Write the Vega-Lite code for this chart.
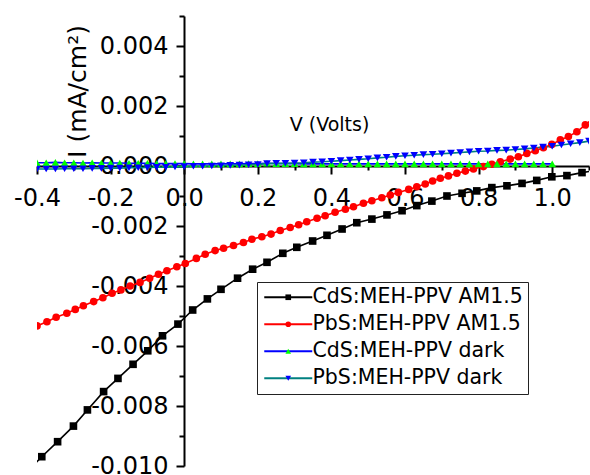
{
  "$schema": "https://vega.github.io/schema/vega-lite/v6.json",
  "width": 552,
  "height": 450,
  "autosize": "none",
  "padding": {"left": 37, "top": 16, "right": 1, "bottom": 9},
  "background": "white",
  "config": {"view": {"stroke": null}, "font": "DejaVu Sans"},
  "data": {
    "values": [
      {"c": "CdS:MEH-PPV AM1.5", "V": -0.428, "I": -0.0102},
      {"c": "CdS:MEH-PPV AM1.5", "V": -0.387, "I": -0.00969},
      {"c": "CdS:MEH-PPV AM1.5", "V": -0.344, "I": -0.00919},
      {"c": "CdS:MEH-PPV AM1.5", "V": -0.301, "I": -0.00867},
      {"c": "CdS:MEH-PPV AM1.5", "V": -0.263, "I": -0.00813},
      {"c": "CdS:MEH-PPV AM1.5", "V": -0.219, "I": -0.00752},
      {"c": "CdS:MEH-PPV AM1.5", "V": -0.18, "I": -0.00708},
      {"c": "CdS:MEH-PPV AM1.5", "V": -0.139, "I": -0.00661},
      {"c": "CdS:MEH-PPV AM1.5", "V": -0.099, "I": -0.00616},
      {"c": "CdS:MEH-PPV AM1.5", "V": -0.059, "I": -0.00566},
      {"c": "CdS:MEH-PPV AM1.5", "V": -0.017, "I": -0.00527},
      {"c": "CdS:MEH-PPV AM1.5", "V": 0.023, "I": -0.0048},
      {"c": "CdS:MEH-PPV AM1.5", "V": 0.063, "I": -0.00443},
      {"c": "CdS:MEH-PPV AM1.5", "V": 0.1, "I": -0.00411},
      {"c": "CdS:MEH-PPV AM1.5", "V": 0.145, "I": -0.00374},
      {"c": "CdS:MEH-PPV AM1.5", "V": 0.186, "I": -0.00344},
      {"c": "CdS:MEH-PPV AM1.5", "V": 0.225, "I": -0.00321},
      {"c": "CdS:MEH-PPV AM1.5", "V": 0.268, "I": -0.00291},
      {"c": "CdS:MEH-PPV AM1.5", "V": 0.306, "I": -0.00271},
      {"c": "CdS:MEH-PPV AM1.5", "V": 0.349, "I": -0.0025},
      {"c": "CdS:MEH-PPV AM1.5", "V": 0.388, "I": -0.00231},
      {"c": "CdS:MEH-PPV AM1.5", "V": 0.429, "I": -0.0021},
      {"c": "CdS:MEH-PPV AM1.5", "V": 0.469, "I": -0.00189},
      {"c": "CdS:MEH-PPV AM1.5", "V": 0.51, "I": -0.00177},
      {"c": "CdS:MEH-PPV AM1.5", "V": 0.551, "I": -0.00163},
      {"c": "CdS:MEH-PPV AM1.5", "V": 0.592, "I": -0.00149},
      {"c": "CdS:MEH-PPV AM1.5", "V": 0.632, "I": -0.00132},
      {"c": "CdS:MEH-PPV AM1.5", "V": 0.673, "I": -0.00117},
      {"c": "CdS:MEH-PPV AM1.5", "V": 0.714, "I": -0.001},
      {"c": "CdS:MEH-PPV AM1.5", "V": 0.755, "I": -0.00091},
      {"c": "CdS:MEH-PPV AM1.5", "V": 0.795, "I": -0.00083},
      {"c": "CdS:MEH-PPV AM1.5", "V": 0.836, "I": -0.00072},
      {"c": "CdS:MEH-PPV AM1.5", "V": 0.877, "I": -0.00066},
      {"c": "CdS:MEH-PPV AM1.5", "V": 0.918, "I": -0.00058},
      {"c": "CdS:MEH-PPV AM1.5", "V": 0.958, "I": -0.00048},
      {"c": "CdS:MEH-PPV AM1.5", "V": 0.999, "I": -0.00036},
      {"c": "CdS:MEH-PPV AM1.5", "V": 1.04, "I": -0.00032},
      {"c": "CdS:MEH-PPV AM1.5", "V": 1.081, "I": -0.00022},
      {"c": "CdS:MEH-PPV AM1.5", "V": 1.122, "I": -0.00014},

      {"c": "PbS:MEH-PPV AM1.5", "V": -0.4, "I": -0.00533},
      {"c": "PbS:MEH-PPV AM1.5", "V": -0.373, "I": -0.00519},
      {"c": "PbS:MEH-PPV AM1.5", "V": -0.348, "I": -0.00504},
      {"c": "PbS:MEH-PPV AM1.5", "V": -0.319, "I": -0.00491},
      {"c": "PbS:MEH-PPV AM1.5", "V": -0.296, "I": -0.00478},
      {"c": "PbS:MEH-PPV AM1.5", "V": -0.274, "I": -0.00466},
      {"c": "PbS:MEH-PPV AM1.5", "V": -0.246, "I": -0.00452},
      {"c": "PbS:MEH-PPV AM1.5", "V": -0.221, "I": -0.00439},
      {"c": "PbS:MEH-PPV AM1.5", "V": -0.196, "I": -0.00424},
      {"c": "PbS:MEH-PPV AM1.5", "V": -0.172, "I": -0.00413},
      {"c": "PbS:MEH-PPV AM1.5", "V": -0.147, "I": -0.004},
      {"c": "PbS:MEH-PPV AM1.5", "V": -0.12, "I": -0.00388},
      {"c": "PbS:MEH-PPV AM1.5", "V": -0.094, "I": -0.00374},
      {"c": "PbS:MEH-PPV AM1.5", "V": -0.07, "I": -0.00361},
      {"c": "PbS:MEH-PPV AM1.5", "V": -0.047, "I": -0.00349},
      {"c": "PbS:MEH-PPV AM1.5", "V": -0.02, "I": -0.00336},
      {"c": "PbS:MEH-PPV AM1.5", "V": 0.003, "I": -0.00325},
      {"c": "PbS:MEH-PPV AM1.5", "V": 0.033, "I": -0.00308},
      {"c": "PbS:MEH-PPV AM1.5", "V": 0.057, "I": -0.00294},
      {"c": "PbS:MEH-PPV AM1.5", "V": 0.084, "I": -0.00282},
      {"c": "PbS:MEH-PPV AM1.5", "V": 0.107, "I": -0.00274},
      {"c": "PbS:MEH-PPV AM1.5", "V": 0.134, "I": -0.00265},
      {"c": "PbS:MEH-PPV AM1.5", "V": 0.161, "I": -0.00255},
      {"c": "PbS:MEH-PPV AM1.5", "V": 0.184, "I": -0.00244},
      {"c": "PbS:MEH-PPV AM1.5", "V": 0.211, "I": -0.00236},
      {"c": "PbS:MEH-PPV AM1.5", "V": 0.236, "I": -0.00227},
      {"c": "PbS:MEH-PPV AM1.5", "V": 0.261, "I": -0.00215},
      {"c": "PbS:MEH-PPV AM1.5", "V": 0.288, "I": -0.00205},
      {"c": "PbS:MEH-PPV AM1.5", "V": 0.311, "I": -0.00196},
      {"c": "PbS:MEH-PPV AM1.5", "V": 0.333, "I": -0.00186},
      {"c": "PbS:MEH-PPV AM1.5", "V": 0.361, "I": -0.00174},
      {"c": "PbS:MEH-PPV AM1.5", "V": 0.383, "I": -0.00166},
      {"c": "PbS:MEH-PPV AM1.5", "V": 0.41, "I": -0.00154},
      {"c": "PbS:MEH-PPV AM1.5", "V": 0.438, "I": -0.00144},
      {"c": "PbS:MEH-PPV AM1.5", "V": 0.46, "I": -0.00136},
      {"c": "PbS:MEH-PPV AM1.5", "V": 0.487, "I": -0.00124},
      {"c": "PbS:MEH-PPV AM1.5", "V": 0.51, "I": -0.00116},
      {"c": "PbS:MEH-PPV AM1.5", "V": 0.537, "I": -0.00106},
      {"c": "PbS:MEH-PPV AM1.5", "V": 0.56, "I": -0.00097},
      {"c": "PbS:MEH-PPV AM1.5", "V": 0.582, "I": -0.00088},
      {"c": "PbS:MEH-PPV AM1.5", "V": 0.61, "I": -0.00078},
      {"c": "PbS:MEH-PPV AM1.5", "V": 0.632, "I": -0.00069},
      {"c": "PbS:MEH-PPV AM1.5", "V": 0.655, "I": -0.0006},
      {"c": "PbS:MEH-PPV AM1.5", "V": 0.675, "I": -0.0005},
      {"c": "PbS:MEH-PPV AM1.5", "V": 0.696, "I": -0.00041},
      {"c": "PbS:MEH-PPV AM1.5", "V": 0.718, "I": -0.00033},
      {"c": "PbS:MEH-PPV AM1.5", "V": 0.741, "I": -0.00024},
      {"c": "PbS:MEH-PPV AM1.5", "V": 0.764, "I": -0.00017},
      {"c": "PbS:MEH-PPV AM1.5", "V": 0.786, "I": -0.0001},
      {"c": "PbS:MEH-PPV AM1.5", "V": 0.813, "I": -0.00002},
      {"c": "PbS:MEH-PPV AM1.5", "V": 0.836, "I": 0.00006},
      {"c": "PbS:MEH-PPV AM1.5", "V": 0.859, "I": 0.00014},
      {"c": "PbS:MEH-PPV AM1.5", "V": 0.886, "I": 0.00023},
      {"c": "PbS:MEH-PPV AM1.5", "V": 0.908, "I": 0.00031},
      {"c": "PbS:MEH-PPV AM1.5", "V": 0.931, "I": 0.00042},
      {"c": "PbS:MEH-PPV AM1.5", "V": 0.954, "I": 0.00051},
      {"c": "PbS:MEH-PPV AM1.5", "V": 0.976, "I": 0.00061},
      {"c": "PbS:MEH-PPV AM1.5", "V": 0.999, "I": 0.00072},
      {"c": "PbS:MEH-PPV AM1.5", "V": 1.022, "I": 0.00087},
      {"c": "PbS:MEH-PPV AM1.5", "V": 1.044, "I": 0.00098},
      {"c": "PbS:MEH-PPV AM1.5", "V": 1.067, "I": 0.00114},
      {"c": "PbS:MEH-PPV AM1.5", "V": 1.09, "I": 0.00137},
      {"c": "PbS:MEH-PPV AM1.5", "V": 1.113, "I": 0.0016},

      {"c": "CdS:MEH-PPV dark", "V": -0.4, "I": 0.00011},
      {"c": "CdS:MEH-PPV dark", "V": -0.375, "I": 0.00011},
      {"c": "CdS:MEH-PPV dark", "V": -0.35, "I": 0.00012},
      {"c": "CdS:MEH-PPV dark", "V": -0.325, "I": 0.00011},
      {"c": "CdS:MEH-PPV dark", "V": -0.3, "I": 0.00011},
      {"c": "CdS:MEH-PPV dark", "V": -0.275, "I": 0.0001},
      {"c": "CdS:MEH-PPV dark", "V": -0.25, "I": 0.00011},
      {"c": "CdS:MEH-PPV dark", "V": -0.225, "I": 0.0001},
      {"c": "CdS:MEH-PPV dark", "V": -0.2, "I": 0.0001},
      {"c": "CdS:MEH-PPV dark", "V": -0.175, "I": 0.0001},
      {"c": "CdS:MEH-PPV dark", "V": -0.15, "I": 0.00009},
      {"c": "CdS:MEH-PPV dark", "V": -0.125, "I": 0.00009},
      {"c": "CdS:MEH-PPV dark", "V": -0.1, "I": 0.00009},
      {"c": "CdS:MEH-PPV dark", "V": -0.075, "I": 0.00008},
      {"c": "CdS:MEH-PPV dark", "V": -0.05, "I": 0.00008},
      {"c": "CdS:MEH-PPV dark", "V": -0.025, "I": 0.00008},
      {"c": "CdS:MEH-PPV dark", "V": 0.0, "I": 0.00008},
      {"c": "CdS:MEH-PPV dark", "V": 0.025, "I": 0.00007},
      {"c": "CdS:MEH-PPV dark", "V": 0.05, "I": 0.00007},
      {"c": "CdS:MEH-PPV dark", "V": 0.075, "I": 0.00007},
      {"c": "CdS:MEH-PPV dark", "V": 0.1, "I": 0.00007},
      {"c": "CdS:MEH-PPV dark", "V": 0.125, "I": 0.00007},
      {"c": "CdS:MEH-PPV dark", "V": 0.15, "I": 0.00007},
      {"c": "CdS:MEH-PPV dark", "V": 0.175, "I": 0.00008},
      {"c": "CdS:MEH-PPV dark", "V": 0.2, "I": 0.00008},
      {"c": "CdS:MEH-PPV dark", "V": 0.225, "I": 0.00009},
      {"c": "CdS:MEH-PPV dark", "V": 0.25, "I": 0.00008},
      {"c": "CdS:MEH-PPV dark", "V": 0.275, "I": 0.00008},
      {"c": "CdS:MEH-PPV dark", "V": 0.3, "I": 0.00008},
      {"c": "CdS:MEH-PPV dark", "V": 0.325, "I": 0.00007},
      {"c": "CdS:MEH-PPV dark", "V": 0.35, "I": 0.00007},
      {"c": "CdS:MEH-PPV dark", "V": 0.375, "I": 0.00007},
      {"c": "CdS:MEH-PPV dark", "V": 0.4, "I": 0.00007},
      {"c": "CdS:MEH-PPV dark", "V": 0.425, "I": 0.00007},
      {"c": "CdS:MEH-PPV dark", "V": 0.45, "I": 0.00007},
      {"c": "CdS:MEH-PPV dark", "V": 0.475, "I": 0.00007},
      {"c": "CdS:MEH-PPV dark", "V": 0.5, "I": 0.00007},
      {"c": "CdS:MEH-PPV dark", "V": 0.525, "I": 0.00007},
      {"c": "CdS:MEH-PPV dark", "V": 0.55, "I": 0.00007},
      {"c": "CdS:MEH-PPV dark", "V": 0.575, "I": 0.00007},
      {"c": "CdS:MEH-PPV dark", "V": 0.6, "I": 0.00007},
      {"c": "CdS:MEH-PPV dark", "V": 0.625, "I": 0.00007},
      {"c": "CdS:MEH-PPV dark", "V": 0.65, "I": 0.00007},
      {"c": "CdS:MEH-PPV dark", "V": 0.675, "I": 0.00007},
      {"c": "CdS:MEH-PPV dark", "V": 0.7, "I": 0.00007},
      {"c": "CdS:MEH-PPV dark", "V": 0.725, "I": 0.00007},
      {"c": "CdS:MEH-PPV dark", "V": 0.75, "I": 0.00007},
      {"c": "CdS:MEH-PPV dark", "V": 0.775, "I": 0.00007},
      {"c": "CdS:MEH-PPV dark", "V": 0.8, "I": 0.00007},
      {"c": "CdS:MEH-PPV dark", "V": 0.825, "I": 0.00007},
      {"c": "CdS:MEH-PPV dark", "V": 0.85, "I": 0.00007},
      {"c": "CdS:MEH-PPV dark", "V": 0.875, "I": 0.00007},
      {"c": "CdS:MEH-PPV dark", "V": 0.9, "I": 0.00007},
      {"c": "CdS:MEH-PPV dark", "V": 0.925, "I": 0.00007},
      {"c": "CdS:MEH-PPV dark", "V": 0.95, "I": 0.00007},
      {"c": "CdS:MEH-PPV dark", "V": 0.975, "I": 0.00007},
      {"c": "CdS:MEH-PPV dark", "V": 1.0, "I": 0.00007},

      {"c": "PbS:MEH-PPV dark", "V": -0.4, "I": -0.0001},
      {"c": "PbS:MEH-PPV dark", "V": -0.375, "I": -0.0001},
      {"c": "PbS:MEH-PPV dark", "V": -0.35, "I": -0.0001},
      {"c": "PbS:MEH-PPV dark", "V": -0.325, "I": -0.00009},
      {"c": "PbS:MEH-PPV dark", "V": -0.3, "I": -0.00009},
      {"c": "PbS:MEH-PPV dark", "V": -0.275, "I": -0.00009},
      {"c": "PbS:MEH-PPV dark", "V": -0.25, "I": -0.00008},
      {"c": "PbS:MEH-PPV dark", "V": -0.225, "I": -0.00008},
      {"c": "PbS:MEH-PPV dark", "V": -0.2, "I": -0.00007},
      {"c": "PbS:MEH-PPV dark", "V": -0.175, "I": -0.00007},
      {"c": "PbS:MEH-PPV dark", "V": -0.15, "I": -0.00006},
      {"c": "PbS:MEH-PPV dark", "V": -0.125, "I": -0.00006},
      {"c": "PbS:MEH-PPV dark", "V": -0.1, "I": -0.00005},
      {"c": "PbS:MEH-PPV dark", "V": -0.075, "I": -0.00004},
      {"c": "PbS:MEH-PPV dark", "V": -0.05, "I": -0.00004},
      {"c": "PbS:MEH-PPV dark", "V": -0.025, "I": -0.00003},
      {"c": "PbS:MEH-PPV dark", "V": 0.0, "I": -0.00002},
      {"c": "PbS:MEH-PPV dark", "V": 0.025, "I": -0.00001},
      {"c": "PbS:MEH-PPV dark", "V": 0.05, "I": -0.00001},
      {"c": "PbS:MEH-PPV dark", "V": 0.075, "I": 0.0},
      {"c": "PbS:MEH-PPV dark", "V": 0.1, "I": 0.00001},
      {"c": "PbS:MEH-PPV dark", "V": 0.125, "I": 0.00002},
      {"c": "PbS:MEH-PPV dark", "V": 0.15, "I": 0.00003},
      {"c": "PbS:MEH-PPV dark", "V": 0.175, "I": 0.00004},
      {"c": "PbS:MEH-PPV dark", "V": 0.2, "I": 0.00005},
      {"c": "PbS:MEH-PPV dark", "V": 0.225, "I": 0.00008},
      {"c": "PbS:MEH-PPV dark", "V": 0.25, "I": 0.00009},
      {"c": "PbS:MEH-PPV dark", "V": 0.275, "I": 0.00009},
      {"c": "PbS:MEH-PPV dark", "V": 0.3, "I": 0.0001},
      {"c": "PbS:MEH-PPV dark", "V": 0.325, "I": 0.00011},
      {"c": "PbS:MEH-PPV dark", "V": 0.35, "I": 0.00013},
      {"c": "PbS:MEH-PPV dark", "V": 0.375, "I": 0.00014},
      {"c": "PbS:MEH-PPV dark", "V": 0.4, "I": 0.00016},
      {"c": "PbS:MEH-PPV dark", "V": 0.425, "I": 0.00018},
      {"c": "PbS:MEH-PPV dark", "V": 0.45, "I": 0.0002},
      {"c": "PbS:MEH-PPV dark", "V": 0.475, "I": 0.00022},
      {"c": "PbS:MEH-PPV dark", "V": 0.5, "I": 0.00024},
      {"c": "PbS:MEH-PPV dark", "V": 0.525, "I": 0.00027},
      {"c": "PbS:MEH-PPV dark", "V": 0.55, "I": 0.00029},
      {"c": "PbS:MEH-PPV dark", "V": 0.575, "I": 0.00032},
      {"c": "PbS:MEH-PPV dark", "V": 0.6, "I": 0.00034},
      {"c": "PbS:MEH-PPV dark", "V": 0.625, "I": 0.00036},
      {"c": "PbS:MEH-PPV dark", "V": 0.65, "I": 0.00038},
      {"c": "PbS:MEH-PPV dark", "V": 0.675, "I": 0.00039},
      {"c": "PbS:MEH-PPV dark", "V": 0.7, "I": 0.00041},
      {"c": "PbS:MEH-PPV dark", "V": 0.725, "I": 0.00043},
      {"c": "PbS:MEH-PPV dark", "V": 0.75, "I": 0.00045},
      {"c": "PbS:MEH-PPV dark", "V": 0.775, "I": 0.00047},
      {"c": "PbS:MEH-PPV dark", "V": 0.8, "I": 0.00049},
      {"c": "PbS:MEH-PPV dark", "V": 0.825, "I": 0.0005},
      {"c": "PbS:MEH-PPV dark", "V": 0.85, "I": 0.00052},
      {"c": "PbS:MEH-PPV dark", "V": 0.875, "I": 0.00053},
      {"c": "PbS:MEH-PPV dark", "V": 0.9, "I": 0.00055},
      {"c": "PbS:MEH-PPV dark", "V": 0.925, "I": 0.00057},
      {"c": "PbS:MEH-PPV dark", "V": 0.95, "I": 0.0006},
      {"c": "PbS:MEH-PPV dark", "V": 0.975, "I": 0.00063},
      {"c": "PbS:MEH-PPV dark", "V": 1.0, "I": 0.00066},
      {"c": "PbS:MEH-PPV dark", "V": 1.025, "I": 0.0007},
      {"c": "PbS:MEH-PPV dark", "V": 1.05, "I": 0.00074},
      {"c": "PbS:MEH-PPV dark", "V": 1.075, "I": 0.00078},
      {"c": "PbS:MEH-PPV dark", "V": 1.1, "I": 0.00083}
    ]
  },
  "encoding": {
    "x": {
      "field": "V",
      "type": "quantitative",
      "scale": {"domain": [-0.4, 1.1], "nice": false, "zero": false},
      "axis": {
        "title": "V (Volts)",
        "orient": "bottom",
        "offset": -300,
        "values": [-0.4, -0.3, -0.2, -0.1, 0, 0.1, 0.2, 0.3, 0.4, 0.5, 0.6, 0.7, 0.8, 0.9, 1.0, 1.1],
        "grid": false,
        "domainColor": "black",
        "domainWidth": 2,
        "tickColor": "black",
        "tickWidth": 2,
        "tickSize": {"condition": {"test": "abs(round(datum.value * 10)) % 2 == 1", "value": 4}, "value": 8},
        "labelExpr": "abs(round(datum.value * 10)) % 2 == 1 ? '' : (datum.value < -0.0001 ? '-' : '') + format(abs(datum.value), '.1f')",
        "labelFont": "DejaVu Sans",
        "labelFontSize": 24,
        "labelColor": "black",
        "labelPadding": 12,
        "labelFlush": false,
        "labelOverlap": false,
        "labelBound": false,
        "titleFont": "DejaVu Sans",
        "titleFontSize": 19,
        "titleFontWeight": "normal",
        "titleColor": "black",
        "titleX": 292,
        "titleY": -42,
        "titleAlign": "center",
        "titleBaseline": "middle"
      }
    },
    "y": {
      "field": "I",
      "type": "quantitative",
      "scale": {"domain": [-0.01, 0.005], "nice": false, "zero": false},
      "axis": {
        "title": "I (mA/cm²)",
        "orient": "left",
        "offset": -147,
        "values": [-0.01, -0.009, -0.008, -0.007, -0.006, -0.005, -0.004, -0.003, -0.002, -0.001, 0, 0.001, 0.002, 0.003, 0.004, 0.005],
        "grid": false,
        "domainColor": "black",
        "domainWidth": 2,
        "tickColor": "black",
        "tickWidth": 2,
        "tickSize": {"condition": {"test": "abs(round(datum.value * 1000)) % 2 == 1", "value": 5}, "value": 8},
        "labelExpr": "abs(round(datum.value * 1000)) % 2 == 1 ? '' : (datum.value < -0.00001 ? '-' : '') + format(abs(datum.value), '.3f')",
        "labelFont": "DejaVu Sans",
        "labelFontSize": 24,
        "labelColor": "black",
        "labelPadding": 8,
        "labelFlush": false,
        "labelOverlap": false,
        "labelBound": false,
        "titleFont": "DejaVu Sans",
        "titleFontSize": 25,
        "titleFontWeight": "normal",
        "titleColor": "black",
        "titleAngle": 270,
        "titleX": -107,
        "titleY": 75,
        "titleAlign": "center",
        "titleBaseline": "middle"
      }
    }
  },
  "layer": [
    {
      "mark": {"type": "line", "clip": true, "strokeWidth": 1.6},
      "encoding": {
        "color": {
          "field": "c",
          "type": "nominal",
          "sort": ["CdS:MEH-PPV AM1.5", "PbS:MEH-PPV AM1.5", "CdS:MEH-PPV dark", "PbS:MEH-PPV dark"],
          "scale": {"range": ["#000000", "#ff0000", "#0000ff", "#008080"]},
          "legend": {
            "title": null,
            "orient": "none",
            "legendX": 220,
            "legendY": 266,
            "padding": 5,
            "strokeColor": "#222222",
            "symbolType": "M-8,0H8",
            "symbolSize": 36,
            "symbolStrokeWidth": 2,
            "symbolOffset": 16,
            "labelOffset": 14,
            "labelFont": "DejaVu Sans",
            "labelFontSize": 20.5,
            "labelColor": "black",
            "labelLimit": 400,
            "rowPadding": 6
          }
        }
      }
    },
    {
      "mark": {"type": "point", "filled": true, "size": 58, "opacity": 1, "clip": true},
      "encoding": {
        "fill": {
          "field": "c",
          "type": "nominal",
          "scale": {
            "domain": ["CdS:MEH-PPV AM1.5", "PbS:MEH-PPV AM1.5", "CdS:MEH-PPV dark", "PbS:MEH-PPV dark"],
            "range": ["#000000", "#ff0000", "#00ff00", "#0000ff"]
          },
          "legend": {
            "title": null,
            "orient": "none",
            "legendX": 220,
            "legendY": 266,
            "padding": 5,
            "symbolSize": 32,
            "symbolOffset": 16,
            "labelOffset": 14,
            "labelFont": "DejaVu Sans",
            "labelFontSize": 20.5,
            "labelOpacity": 0,
            "labelLimit": 400,
            "rowPadding": 6
          }
        },
        "shape": {
          "field": "c",
          "type": "nominal",
          "scale": {
            "domain": ["CdS:MEH-PPV AM1.5", "PbS:MEH-PPV AM1.5", "CdS:MEH-PPV dark", "PbS:MEH-PPV dark"],
            "range": ["square", "circle", "triangle-up", "triangle-down"]
          },
          "legend": {
            "title": null,
            "orient": "none",
            "legendX": 220,
            "legendY": 266,
            "padding": 5,
            "symbolSize": 32,
            "symbolOffset": 16,
            "labelOffset": 14,
            "labelFont": "DejaVu Sans",
            "labelFontSize": 20.5,
            "labelOpacity": 0,
            "labelLimit": 400,
            "rowPadding": 6
          }
        }
      }
    }
  ]
}
